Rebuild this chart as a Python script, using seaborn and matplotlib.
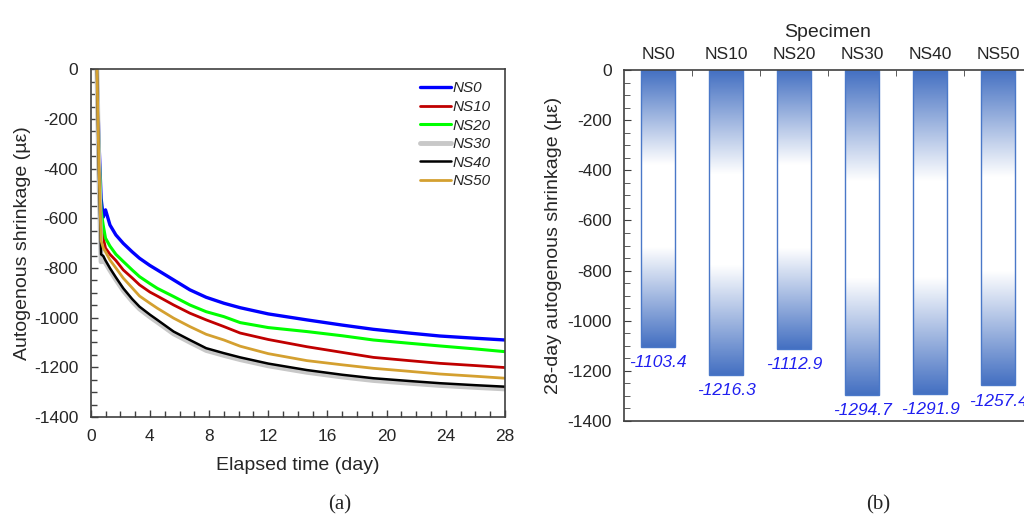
import numpy as np
import pandas as pd
import matplotlib
matplotlib.use("Agg")
import matplotlib.pyplot as plt
import seaborn as sns
from matplotlib.colors import LinearSegmentedColormap
from matplotlib.ticker import MultipleLocator, FixedLocator

# ---------------- data ----------------
days = [0.42, 0.55, 0.70, 0.85, 1.0, 1.3, 1.7, 2.2, 2.8, 3.3, 4.0, 4.5, 5.6, 6.7,
        7.8, 9.0, 10.1, 12, 14.6, 17, 19.1, 21.5, 23.6, 26, 28]
ns0 = [0, -280, -520, -595, -566, -627, -667, -701, -735, -761, -790, -808, -848,
       -888, -918, -942, -960, -985, -1009, -1030, -1047, -1062, -1074, -1083, -1090]
ns10 = [0, -320, -600, -680, -720, -745, -770, -808, -840, -868, -897, -913, -949,
        -982, -1009, -1036, -1062, -1088, -1117, -1140, -1160, -1173, -1184, -1193, -1201]
ns20 = [0, -300, -570, -630, -680, -712, -745, -774, -808, -835, -863, -882, -915,
        -949, -976, -996, -1020, -1040, -1056, -1073, -1090, -1103, -1114, -1126, -1137]
ns30 = [0, -420, -775, -770, -780, -810, -847, -891, -934, -965, -997, -1018, -1065,
        -1099, -1132, -1152, -1169, -1194, -1220, -1239, -1253, -1264, -1273, -1281, -1287]
ns40 = [0, -400, -745, -752, -770, -801, -838, -882, -925, -956, -988, -1009, -1056,
        -1090, -1123, -1143, -1160, -1185, -1211, -1230, -1244, -1255, -1264, -1272, -1278]
ns50 = [0, -380, -690, -720, -735, -768, -800, -841, -880, -913, -942, -962, -1002,
        -1036, -1067, -1090, -1115, -1145, -1173, -1190, -1204, -1216, -1227, -1236, -1244]

specimens = ["NS0", "NS10", "NS20", "NS30", "NS40", "NS50"]
shrink_28 = [-1103.4, -1216.3, -1112.9, -1294.7, -1291.9, -1257.4]

line_colors = {"NS0": "#0000FF", "NS10": "#C00000", "NS20": "#00FF00",
               "NS30": "#C8C8C8", "NS40": "#000000", "NS50": "#D4A030"}

# ---------------- style ----------------
sns.set_style("white")
plt.rcParams['font.family'] = ['Liberation Sans', 'DejaVu Sans']
plt.rcParams['axes.unicode_minus'] = False

fig = plt.figure(figsize=(10.24, 5.16), dpi=100)
ax1 = fig.add_axes([0.0886, 0.1919, 0.4046, 0.6738])
ax2 = fig.add_axes([0.6094, 0.1841, 0.3984, 0.6802])

spine_col = "#404040"

# ---------------- (a) line chart ----------------
series = [ns0, ns10, ns20, ns30, ns40, ns50]
rows = []
for name, vals in zip(specimens, series):
    for d, v in zip(days, vals):
        rows.append({"day": d, "value": v, "Specimen": name})
df = pd.DataFrame(rows)

sns.lineplot(data=df, x="day", y="value", hue="Specimen", hue_order=specimens,
             palette=line_colors, linewidth=2, estimator=None, sort=False,
             legend=False, ax=ax1)
widths = {"NS0": 2.4, "NS10": 2.0, "NS20": 2.2, "NS30": 3.5, "NS40": 1.8, "NS50": 2.0}
for ln, name in zip(ax1.lines, specimens):
    ln.set_linewidth(widths[name])
    ln.set_solid_joinstyle("round")

ax1.legend(ax1.lines, specimens, loc="upper left", bbox_to_anchor=(0.795, 0.965),
           frameon=False, prop={"style": "italic", "size": 11}, handlelength=2.0,
           handletextpad=0.1, labelspacing=0.3, borderpad=0, borderaxespad=0)

ax1.set_xlim(0, 28)
ax1.set_ylim(-1400, 0)
ax1.xaxis.set_major_locator(MultipleLocator(4))
ax1.xaxis.set_minor_locator(MultipleLocator(1))
ax1.yaxis.set_major_locator(MultipleLocator(200))
ax1.yaxis.set_minor_locator(MultipleLocator(50))
ax1.tick_params(which="both", direction="in", top=False, right=False,
                bottom=True, left=True, color=spine_col, width=1)
ax1.tick_params(which="major", length=5, labelsize=12.5, pad=9)
ax1.tick_params(which="minor", length=4)
ax1.set_xlabel("Elapsed time (day)", fontsize=14, labelpad=9)
ax1.set_ylabel("Autogenous shrinkage (µε)", fontsize=14, labelpad=2)
for s in ax1.spines.values():
    s.set_color(spine_col)
    s.set_linewidth(1.2)

# ---------------- (b) bar chart ----------------
bar_df = pd.DataFrame({"Specimen": specimens, "Shrinkage": shrink_28})
sns.barplot(data=bar_df, x="Specimen", y="Shrinkage", order=specimens,
            color="#4472C4", width=0.51, edgecolor="#4A78C8", linewidth=1.0, ax=ax2)
ax2.set_xlim(-0.5, 5.5)
ax2.set_ylim(-1400, 0)

dark = "#4470C2"
cmap = LinearSegmentedColormap.from_list(
    "grad", [(0.0, dark), (0.34, "white"), (0.64, "white"), (1.0, dark)])
grad = np.linspace(0, 1, 256).reshape(-1, 1)
for p in ax2.patches:
    x0, y0, w, h = p.get_x(), p.get_y(), p.get_width(), p.get_height()
    top, bot = max(y0, y0 + h), min(y0, y0 + h)
    im = ax2.imshow(grad, extent=(x0, x0 + w, bot, top), origin="upper",
                    aspect="auto", cmap=cmap, zorder=p.get_zorder() - 0.05)
    im.set_clip_path(p)
    p.set_facecolor("none")
ax2.set_xlim(-0.5, 5.5)
ax2.set_ylim(-1400, 0)

ax2.bar_label(ax2.containers[0], fmt="%.1f", padding=6, color="#1F1FF0",
              fontsize=12.5, fontstyle="italic")

ax2.xaxis.tick_top()
ax2.xaxis.set_label_position("top")
ax2.set_xlabel("Specimen", fontsize=14, labelpad=7)
ax2.set_ylabel("28-day autogenous shrinkage (µε)", fontsize=14, labelpad=4)
ax2.xaxis.set_minor_locator(FixedLocator([0.5, 1.5, 2.5, 3.5, 4.5]))
ax2.yaxis.set_major_locator(MultipleLocator(200))
ax2.yaxis.set_minor_locator(MultipleLocator(50))
ax2.tick_params(axis="x", which="major", length=0, labelsize=12.5, pad=6)
ax2.tick_params(axis="x", which="minor", direction="in", length=4, top=True,
                bottom=False, color=spine_col)
ax2.tick_params(axis="y", which="both", direction="in", left=True, right=False,
                color=spine_col)
ax2.tick_params(axis="y", which="major", length=5, labelsize=12.5, pad=9)
ax2.tick_params(axis="y", which="minor", length=4)
for s in ax2.spines.values():
    s.set_color(spine_col)
    s.set_linewidth(1.2)

fig.text(0.332, 0.021, "(a)", family=["Liberation Serif", "DejaVu Serif"],
         fontsize=15, ha="center", va="center")
fig.text(0.858, 0.021, "(b)", family=["Liberation Serif", "DejaVu Serif"],
         fontsize=15, ha="center", va="center")

fig.savefig("out.png", dpi=100)
